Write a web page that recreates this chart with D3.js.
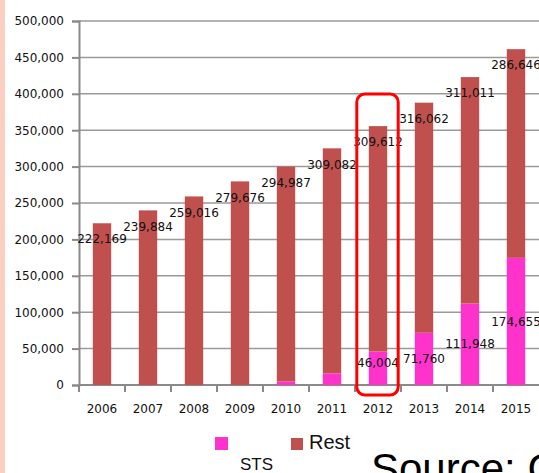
<!DOCTYPE html>
<html lang="en">
<head>
    <meta charset="utf-8">
    <title>STS vs Rest</title>
    <script src="https://d3js.org/d3.v7.min.js" charset="utf-8"></script>
    <style type="text/css">
        body { margin: 0; background: white; }
        svg { display: block; font-family: "DejaVu Sans", Verdana, sans-serif; }
        .tick-label { font-size: 12px; fill: #111; }
        .data-label { font-size: 12px; fill: #111; }
    </style>
</head>
<body>
    <div id="main"></div>
    <script type="text/javascript">
var years = ["2006", "2007", "2008", "2009", "2010", "2011", "2012", "2013", "2014", "2015"];
var sts = [0, 0, 0, 0, 5000, 16000, 46004, 71760, 111948, 174655];
var rest = [222169, 239884, 259016, 279676, 294987, 309082, 309612, 316062, 311011, 286646];
var stsLabels = ["", "", "", "", "", "", "46,004", "71,760", "111,948", "174,655"];
var yTicks = [0, 50000, 100000, 150000, 200000, 250000, 300000, 350000, 400000, 450000, 500000];

var width = 539, height = 473;
var plotLeft = 79, plotRight = 539, plotTop = 21, plotBottom = 385;

var svg = d3.select("div#main").append("svg")
    .attr("width", width)
    .attr("height", height);

var x = d3.scaleBand().domain(years).range([plotLeft, plotRight])
    .paddingInner(0.6).paddingOuter(0.3);
var y = d3.scaleLinear().domain([0, 500000]).range([plotBottom, plotTop]);

// pink strip on left edge
svg.append("rect").attr("x", 0).attr("y", 0).attr("width", 5).attr("height", height)
    .attr("fill", "#fbcfc2");

// gridlines
svg.append("g").selectAll("line")
    .data(yTicks.slice(1))
    .enter().append("line")
    .attr("x1", plotLeft).attr("x2", plotRight)
    .attr("y1", function(d){ return y(d) }).attr("y2", function(d){ return y(d) })
    .attr("stroke", "#9a9a9a").attr("stroke-width", 1.5);

// y axis
var yAxis = d3.axisLeft(y).tickValues(yTicks).tickSize(7).tickPadding(8)
    .tickFormat(d3.format(","));
var gy = svg.append("g").attr("transform", "translate(" + plotLeft + ",0)").call(yAxis);
gy.select(".domain").attr("stroke", "#8a8a8a").attr("stroke-width", 2);
gy.selectAll(".tick line").attr("stroke", "#8a8a8a").attr("stroke-width", 2);
gy.attr("font-family", null).attr("font-size", null);
gy.selectAll("text").attr("class", "tick-label");

// x axis line and ticks at band edges
svg.append("line").attr("x1", plotLeft).attr("x2", plotRight).attr("y1", plotBottom).attr("y2", plotBottom)
    .attr("stroke", "#8a8a8a").attr("stroke-width", 2);
svg.append("g").selectAll("line")
    .data(years)
    .enter().append("line")
    .attr("x1", function(d){ return x(d) - x.step() * 0.3 })
    .attr("x2", function(d){ return x(d) - x.step() * 0.3 })
    .attr("y1", plotBottom).attr("y2", plotBottom + 7)
    .attr("stroke", "#8a8a8a").attr("stroke-width", 2);
svg.append("g").selectAll("text")
    .data(years)
    .enter().append("text")
    .attr("class", "tick-label")
    .attr("x", function(d){ return x(d) + x.bandwidth() / 2 })
    .attr("y", 413)
    .attr("text-anchor", "middle")
    .text(function(d){ return d });

// stacked bars
var bars = svg.append("g");
bars.selectAll("rect.sts")
    .data(years)
    .enter().append("rect")
    .attr("class", "sts")
    .attr("x", function(d){ return x(d) })
    .attr("width", x.bandwidth())
    .attr("y", function(d, i){ return y(sts[i]) })
    .attr("height", function(d, i){ return plotBottom - y(sts[i]) })
    .attr("fill", "#ff33cc");
bars.selectAll("rect.rest")
    .data(years)
    .enter().append("rect")
    .attr("class", "rest")
    .attr("x", function(d){ return x(d) })
    .attr("width", x.bandwidth())
    .attr("y", function(d, i){ return y(sts[i] + rest[i]) })
    .attr("height", function(d, i){ return y(sts[i]) - y(sts[i] + rest[i]) })
    .attr("fill", "#c0504d");

// labels
svg.append("g").selectAll("text")
    .data(years)
    .enter().append("text")
    .attr("class", "data-label")
    .attr("x", function(d){ return x(d) + x.bandwidth() / 2 })
    .attr("y", function(d, i){ return y(sts[i] + rest[i]) + 16 })
    .attr("dy", "0.35em")
    .attr("text-anchor", "middle")
    .text(function(d, i){ return d3.format(",")(rest[i]) });
svg.append("g").selectAll("text")
    .data(years)
    .enter().append("text")
    .attr("class", "data-label")
    .attr("x", function(d){ return x(d) + x.bandwidth() / 2 })
    .attr("y", function(d, i){ return Math.min((y(sts[i]) + plotBottom) / 2, plotBottom - 22) })
    .attr("dy", "0.35em")
    .attr("text-anchor", "middle")
    .text(function(d, i){ return stsLabels[i] });

// highlight box around 2012
svg.append("rect")
    .attr("x", x("2012") - 12).attr("y", 94)
    .attr("width", x.bandwidth() + 23).attr("height", 301)
    .attr("rx", 8).attr("ry", 8)
    .attr("fill", "none").attr("stroke", "#ff0000").attr("stroke-width", 3);

// legend
var legend = svg.append("g").attr("font-family", "Liberation Sans, Arial, sans-serif");
legend.append("rect").attr("x", 215).attr("y", 437).attr("width", 13).attr("height", 13).attr("fill", "#ff33cc");
legend.append("text").attr("x", 240).attr("y", 470).attr("font-size", 17).attr("fill", "#111").text("STS");
legend.append("rect").attr("x", 291).attr("y", 438).attr("width", 12).attr("height", 12).attr("fill", "#c0504d");
legend.append("text").attr("x", 309).attr("y", 449).attr("font-size", 20).attr("fill", "#111").text("Rest");

svg.append("text").attr("x", 371).attr("y", 483)
    .attr("font-family", "Liberation Sans, Arial, sans-serif")
    .attr("font-size", 42).attr("fill", "#000")
    .text("Source: Cisco");
    </script>
</body>
</html>
